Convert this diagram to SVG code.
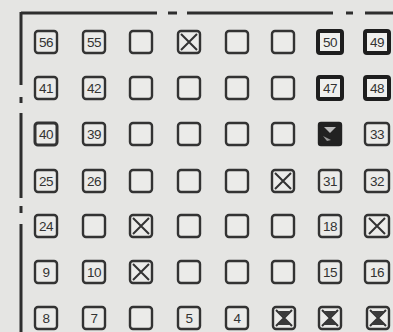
<svg xmlns="http://www.w3.org/2000/svg" width="393" height="332" viewBox="0 0 393 332">
<style>
.bg{fill:#e5e5e3}
.f{stroke:#2e2e2e;stroke-width:3;fill:none}
.b{fill:#ebebe9;stroke:#333;stroke-width:2.4}
.t{fill:#f0f0ee;stroke:#1e1e1e;stroke-width:4}
.k{fill:#222;stroke:#222;stroke-width:2.4}
.x{stroke:#333;stroke-width:2;fill:none}
.h{fill:#3a3a3a}
.n{font-family:"Liberation Sans",Arial,sans-serif;font-size:13.5px;fill:#333;text-anchor:middle;dominant-baseline:central;letter-spacing:-0.5px}
</style>
<defs>
<rect id="bx" class="b" x="-11" y="-11" width="22" height="22" rx="3"/>
<rect id="bw" class="b" x="-12" y="-11" width="24" height="22" rx="3"/>
<rect id="bt" class="t" x="-12" y="-11" width="24" height="22" rx="2"/>
<path id="xx" class="x" d="M-8,-8L8,8M8,-8L-8,8"/>
<path id="hg" class="h" d="M-6,-7L6,-7L0,-1ZM-7,7L7,7L0,0Z"/>
</defs>
<rect class="bg" width="393" height="332"/>
<g id="frame">
<path class="f" d="M21,13H157M168,13H177M187,13H333M346,13H353M365,13H393"/>
<path class="f" d="M21,12V85M21,97V103M21,113V198M21,206V213M21,224V332"/>
</g>
<g id="connectors"/>
<!-- row 1 -->
<g id="c56" transform="translate(46,42)"><use href="#bx"/><text class="n">56</text></g>
<g id="c55" transform="translate(94,42)"><use href="#bx"/><text class="n">55</text></g>
<g id="r1c3" transform="translate(141,42)"><use href="#bx"/></g>
<g id="r1c4" transform="translate(189,42)"><use href="#bx"/><use href="#xx"/></g>
<g id="r1c5" transform="translate(237,42)"><use href="#bx"/></g>
<g id="r1c6" transform="translate(283,42)"><use href="#bx"/></g>
<g id="c50" transform="translate(330,42)"><use href="#bt"/><text class="n">50</text></g>
<g id="c49" transform="translate(377,42)"><use href="#bt"/><text class="n">49</text></g>
<!-- row 2 -->
<g id="c41" transform="translate(46,88)"><use href="#bx"/><text class="n">41</text></g>
<g id="c42" transform="translate(94,88)"><use href="#bx"/><text class="n">42</text></g>
<g id="r2c3" transform="translate(141,88)"><use href="#bx"/></g>
<g id="r2c4" transform="translate(189,88)"><use href="#bx"/></g>
<g id="r2c5" transform="translate(237,88)"><use href="#bx"/></g>
<g id="r2c6" transform="translate(283,88)"><use href="#bx"/></g>
<g id="c47" transform="translate(330,88)"><use href="#bt"/><text class="n">47</text></g>
<g id="c48" transform="translate(377,88)"><use href="#bt"/><text class="n">48</text></g>
<!-- row 3 -->
<g id="c40" transform="translate(46,134)"><rect class="b" x="-11" y="-11" width="22" height="22" rx="3" style="stroke-width:3"/><text class="n">40</text></g>
<g id="c39" transform="translate(94,134)"><use href="#bx"/><text class="n">39</text></g>
<g id="r3c3" transform="translate(141,134)"><use href="#bx"/></g>
<g id="r3c4" transform="translate(189,134)"><use href="#bx"/></g>
<g id="r3c5" transform="translate(237,134)"><use href="#bx"/></g>
<g id="r3c6" transform="translate(283,134)"><use href="#bx"/></g>
<g id="r3c7" transform="translate(330,134)"><rect class="k" x="-11" y="-11" width="22" height="22" rx="2"/><path d="M-6,-7L6,-7L0,-1Z" fill="#bbb"/><path d="M-7,2L-3,7L1,6Z" fill="#999"/></g>
<g id="c33" transform="translate(377,134)"><use href="#bw"/><text class="n">33</text></g>
<!-- row 4 -->
<g id="c25" transform="translate(46,181)"><use href="#bx"/><text class="n">25</text></g>
<g id="c26" transform="translate(94,181)"><use href="#bx"/><text class="n">26</text></g>
<g id="r4c3" transform="translate(141,181)"><use href="#bx"/></g>
<g id="r4c4" transform="translate(189,181)"><use href="#bx"/></g>
<g id="r4c5" transform="translate(237,181)"><use href="#bx"/></g>
<g id="r4c6" transform="translate(283,181)"><use href="#bx"/><use href="#xx"/></g>
<g id="c31" transform="translate(330,181)"><use href="#bx"/><text class="n">31</text></g>
<g id="c32" transform="translate(377,181)"><use href="#bw"/><text class="n">32</text></g>
<!-- row 5 -->
<g id="c24" transform="translate(46,226)"><use href="#bx"/><text class="n">24</text></g>
<g id="r5c2" transform="translate(94,226)"><use href="#bx"/></g>
<g id="r5c3" transform="translate(141,226)"><use href="#bx"/><use href="#xx"/></g>
<g id="r5c4" transform="translate(189,226)"><use href="#bx"/></g>
<g id="r5c5" transform="translate(237,226)"><use href="#bx"/></g>
<g id="r5c6" transform="translate(283,226)"><use href="#bx"/></g>
<g id="c18" transform="translate(330,226)"><use href="#bx"/><text class="n">18</text></g>
<g id="r5c8" transform="translate(377,226)"><use href="#bw"/><use href="#xx"/></g>
<!-- row 6 -->
<g id="c9" transform="translate(46,272)"><use href="#bx"/><text class="n">9</text></g>
<g id="c10" transform="translate(94,272)"><use href="#bx"/><text class="n">10</text></g>
<g id="r6c3" transform="translate(141,272)"><use href="#bx"/><use href="#xx"/></g>
<g id="r6c4" transform="translate(189,272)"><use href="#bx"/></g>
<g id="r6c5" transform="translate(237,272)"><use href="#bx"/></g>
<g id="r6c6" transform="translate(283,272)"><use href="#bx"/></g>
<g id="c15" transform="translate(330,272)"><use href="#bx"/><text class="n">15</text></g>
<g id="c16" transform="translate(377,272)"><use href="#bw"/><text class="n">16</text></g>
<!-- row 7 -->
<g id="c8" transform="translate(46,318)"><use href="#bx"/><text class="n">8</text></g>
<g id="c7" transform="translate(94,318)"><use href="#bx"/><text class="n">7</text></g>
<g id="r7c3" transform="translate(141,318)"><use href="#bx"/></g>
<g id="c5" transform="translate(189,318)"><use href="#bx"/><text class="n">5</text></g>
<g id="c4" transform="translate(237,318)"><use href="#bx"/><text class="n">4</text></g>
<g id="r7c6" transform="translate(284,318)"><use href="#bx"/><use href="#xx"/><use href="#hg"/></g>
<g id="r7c7" transform="translate(330,318)"><use href="#bx"/><use href="#xx"/><use href="#hg"/></g>
<g id="r7c8" transform="translate(378,318)"><use href="#bx"/><use href="#xx"/><use href="#hg"/></g>
</svg>
